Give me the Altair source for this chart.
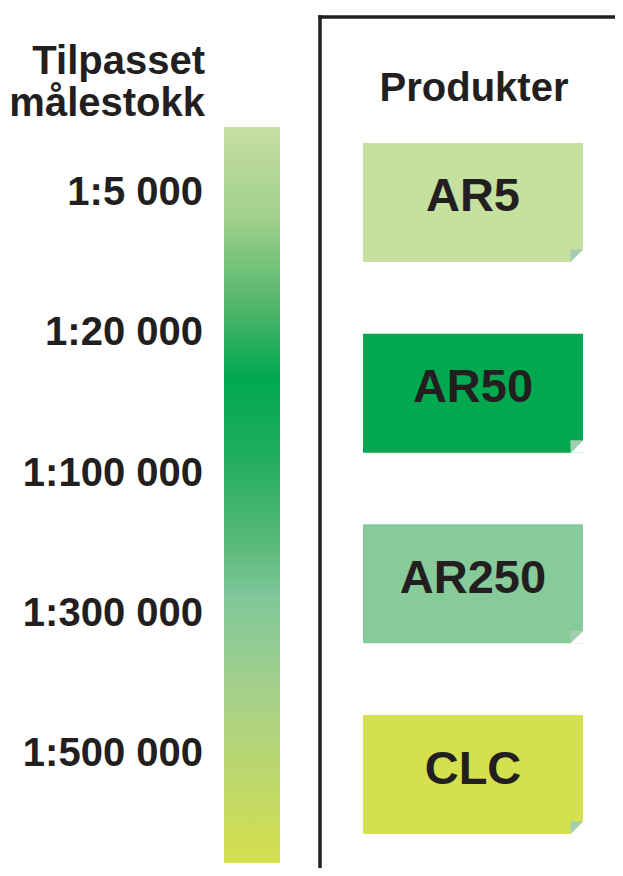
import altair as alt
import pandas as pd

# ---- data ----
title_lines = ["Tilpasset", "målestokk"]
scale_labels = ["1:5 000", "1:20 000", "1:100 000", "1:300 000", "1:500 000"]
products = ["AR5", "AR50", "AR250", "CLC"]
product_colors = ["#c5e09f", "#00a94f", "#86cb99", "#d5e04f"]
header = "Produkter"
gradient_offsets = [0.0, 0.12, 0.25, 0.34, 0.45, 0.575, 0.64, 0.77, 1.0]
gradient_colors = ["#c6dfa0", "#a2d08d", "#4db56a", "#00a84f", "#20ad5f",
                   "#5eba7c", "#80c89a", "#a6d08a", "#d4df4c"]

TEXT = "#231f20"
FONT = "Liberation Sans"
W, H = 607, 860

labels_df = pd.DataFrame({"label": scale_labels})
prod_df = pd.DataFrame({"product": products})
one = pd.DataFrame({"k": [0]})

# left: scale title
title = alt.Chart(one).mark_text(
    text=title_lines, align="right", baseline="alphabetic", font=FONT,
    fontWeight="bold", fontSize=40, lineHeight=42, color=TEXT
).encode(x=alt.value(197), y=alt.value(66))

# left: scale labels
labels = alt.Chart(labels_df).mark_text(
    align="right", baseline="middle", font=FONT, fontWeight="bold",
    fontSize=40, color=TEXT
).encode(
    x=alt.value(195),
    y=alt.Y("label:N", sort=scale_labels, axis=None,
            scale=alt.Scale(type="point", range=[185, 746], padding=0)),
    text="label:N",
)

# gradient bar
grad = alt.Gradient(
    gradient="linear", x1=0, x2=0, y1=0, y2=1,
    stops=[alt.GradientStop(color=c, offset=o)
           for c, o in zip(gradient_colors, gradient_offsets)],
)
bar = alt.Chart(one).mark_rect(fill=grad).encode(
    x=alt.value(216), x2=alt.value(272), y=alt.value(119), y2=alt.value(855)
)

# divider lines
vline = alt.Chart(one).mark_rule(color=TEXT, strokeWidth=3.5, strokeCap="square").encode(
    x=alt.value(312), y=alt.value(9), y2=alt.value(H + 20)
)
hline = alt.Chart(one).mark_rule(color=TEXT, strokeWidth=3.5, strokeCap="square").encode(
    x=alt.value(312), x2=alt.value(W + 20), y=alt.value(9)
)

# header
head = alt.Chart(one).mark_text(
    text=header, align="center", baseline="middle", font=FONT,
    fontWeight="bold", fontSize=40, color=TEXT
).encode(x=alt.value(466), y=alt.value(81))

band = alt.Scale(type="band", range=[135, 826], paddingInner=0.376, paddingOuter=0)
yprod = alt.Y("product:N", sort=products, axis=None, scale=band)

boxes = alt.Chart(prod_df).mark_rect().encode(
    x=alt.value(355), x2=alt.value(575), y=yprod,
    color=alt.Color("product:N", legend=None,
                    scale=alt.Scale(domain=products, range=product_colors)),
)

box_text = alt.Chart(prod_df).mark_text(
    align="center", baseline="middle", font=FONT, fontWeight="bold",
    fontSize=47, color=TEXT, dy=-5
).encode(x=alt.value(465), y=yprod, text="product:N")

ycorner = alt.Y("product:N", sort=products, axis=None, scale=band, bandPosition=1)
cut = alt.Chart(prod_df).mark_point(
    shape="M 0 -1 L 0 0 L -1 0 Z", filled=True, size=625, color="white",
    opacity=1, strokeWidth=0
).encode(x=alt.value(575), y=ycorner)
fold = alt.Chart(prod_df).mark_point(
    shape="M -1 -1 L 0 -1 L -1 0 Z", filled=True, size=625, color="#a3cdb0",
    opacity=1, strokeWidth=0
).encode(x=alt.value(575), y=ycorner)

chart = alt.layer(
    bar, title, labels, vline, hline, head, boxes, box_text, cut, fold
).resolve_scale(y="independent", color="independent").properties(
    width=W, height=H, padding=0, autosize=alt.AutoSizeParams(type="none")
).configure_view(stroke=None)

chart.save("out.html", embed_options={"renderer": "svg", "actions": False})
